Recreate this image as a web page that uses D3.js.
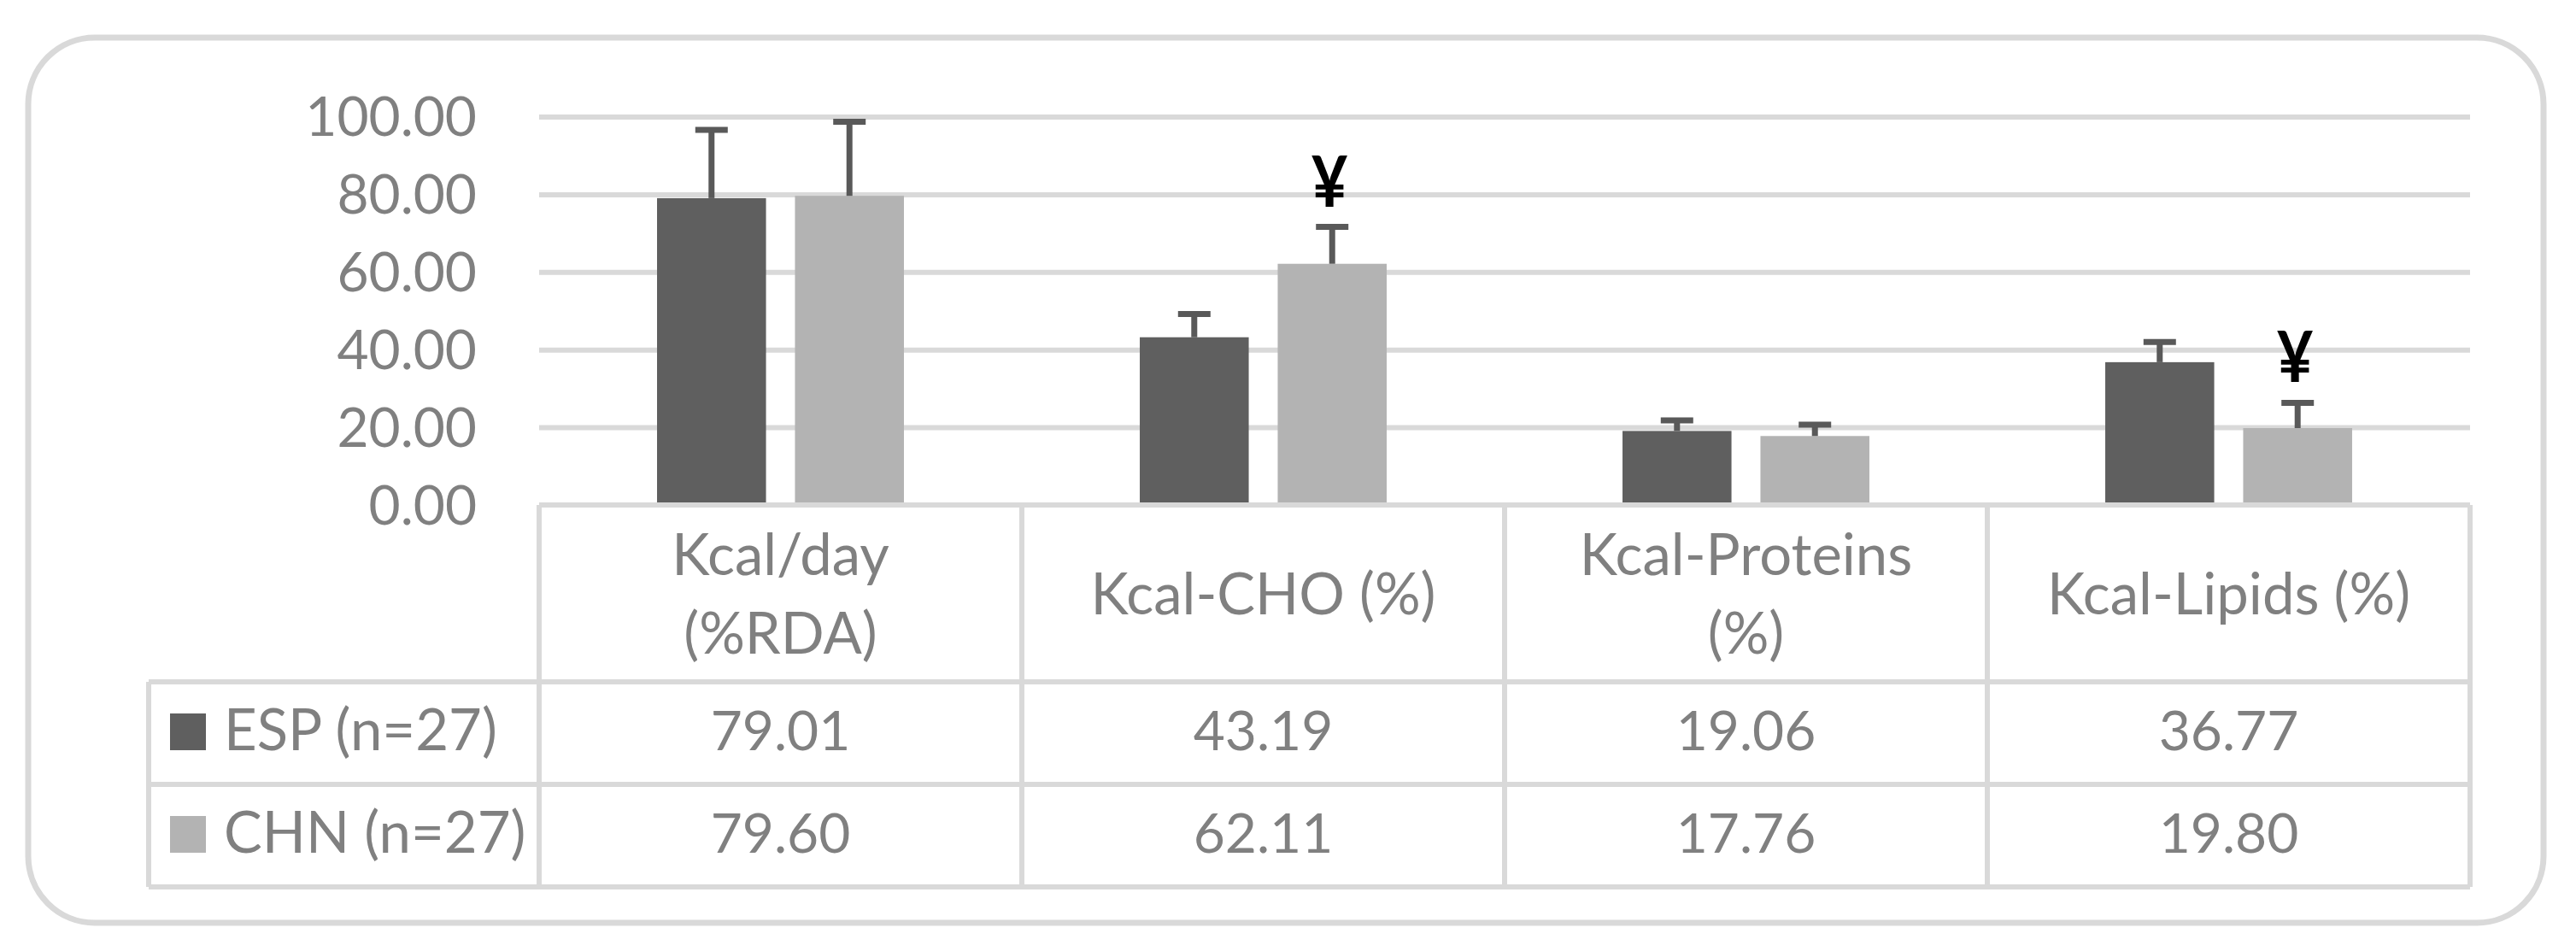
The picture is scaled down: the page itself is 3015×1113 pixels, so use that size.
<!DOCTYPE html>
<html>
<head>
<meta charset="utf-8">
<script src="https://cdn.jsdelivr.net/npm/d3@7/dist/d3.min.js"></script>
<style>
  html, body { margin: 0; padding: 0; background: #ffffff; }
  svg { display: block; }
  text { font-family: Lato, "Open Sans", sans-serif; }
</style>
</head>
<body>
<svg id="chart" width="3015" height="1113"></svg>
<script>
// ---------- data ----------
const categories = ["Kcal/day (%RDA)", "Kcal-CHO (%)", "Kcal-Proteins (%)", "Kcal-Lipids (%)"];
const categoryLines = [["Kcal/day", "(%RDA)"], ["Kcal-CHO (%)"], ["Kcal-Proteins", "(%)"], ["Kcal-Lipids (%)"]];
const seriesNames = ["ESP (n=27)", "CHN (n=27)"];
const espValues = [79.01, 43.19, 19.06, 36.77];
const chnValues = [79.60, 62.11, 17.76, 19.80];
const espSD = [17.6, 6.0, 2.7, 5.2];
const chnSD = [19.1, 9.5, 2.9, 6.5];
const chnMarks = ["", "¥", "", "¥"];
const yTicks = [0, 20, 40, 60, 80, 100];

// ---------- layout ----------
const svg = d3.select("#chart");
const colors = ["#5f5f5f", "#b3b3b3"];
const lineColor = "#d9d9d9";
const textColor = "#808080";
const plotLeft = 631, plotRight = 2891, plotTop = 136.5, plotBottom = 591;
const headerBottom = 798, rowH = 120, tableLeft = 174;

const series = [
  { name: seriesNames[0], values: espValues, sd: espSD, marks: categories.map(() => "") },
  { name: seriesNames[1], values: chnValues, sd: chnSD, marks: chnMarks }
];

// outer rounded frame
svg.append("rect")
  .attr("x", 33).attr("y", 44).attr("width", 2944).attr("height", 1036)
  .attr("rx", 78).attr("ry", 78)
  .attr("fill", "#fff").attr("stroke", lineColor).attr("stroke-width", 7);

const x = d3.scaleBand().domain(categories).range([plotLeft, plotRight]).paddingInner(0).paddingOuter(0);
const xs = d3.scaleBand().domain(seriesNames).range([0, x.bandwidth()]).paddingInner(0.21).paddingOuter(0.855);
const y = d3.scaleLinear().domain([0, 100]).range([plotBottom, plotTop]);

// gridlines
const grid = svg.append("g").attr("transform", `translate(${plotLeft},0)`)
  .call(d3.axisLeft(y).tickValues(yTicks.filter(d => d > 0)).tickSize(-(plotRight - plotLeft)).tickFormat(""));
grid.select(".domain").remove();
grid.selectAll(".tick line").attr("stroke", lineColor).attr("stroke-width", 6);

// y labels
const yAxis = svg.append("g").attr("transform", `translate(${plotLeft},0)`)
  .call(d3.axisLeft(y).tickValues(yTicks).tickSize(0).tickPadding(73).tickFormat(d3.format(".2f")));
yAxis.select(".domain").remove();
yAxis.selectAll("text").attr("fill", textColor).style("font-size", "64px")
  .style("font-family", "Lato, sans-serif").attr("dy", "0.35em");

// bars
const groups = svg.append("g").selectAll("g").data(series).join("g")
  .attr("fill", (d, i) => colors[i]);
groups.selectAll("rect").data(s => categories.map((c, j) => ({ c, v: s.values[j], sd: s.sd[j], m: s.marks[j], s: s.name })))
  .join("rect")
  .attr("x", d => x(d.c) + xs(d.s))
  .attr("width", xs.bandwidth())
  .attr("y", d => y(d.v))
  .attr("height", d => y(0) - y(d.v));

// error bars (plus direction)
const errs = svg.append("g").attr("stroke", "#595959").attr("stroke-width", 7);
series.forEach(s => {
  categories.forEach((c, j) => {
    const cx = x(c) + xs(s.name) + xs.bandwidth() / 2;
    const top = y(s.values[j] + s.sd[j]);
    errs.append("line").attr("x1", cx).attr("x2", cx).attr("y1", y(s.values[j])).attr("y2", top);
    errs.append("line").attr("x1", cx - 19).attr("x2", cx + 19).attr("y1", top).attr("y2", top);
    if (s.marks[j]) {
      svg.append("text")
        .attr("transform", `translate(${cx - 3},${top - 24}) scale(0.92,1.04)`)
        .attr("text-anchor", "middle").attr("fill", "#000")
        .style("font-size", "80px").style("font-weight", "bold")
        .style("font-family", "Lato, sans-serif")
        .text(s.marks[j]);
    }
  });
});

// data table
const tbl = svg.append("g").attr("stroke", lineColor).attr("stroke-width", 6).attr("fill", "none");
const tableBottom = headerBottom + rowH * series.length;
tbl.append("line").attr("x1", plotLeft).attr("x2", plotRight).attr("y1", plotBottom).attr("y2", plotBottom);
[0, 1, 2].forEach(k => {
  const yy = headerBottom + k * rowH;
  tbl.append("line").attr("x1", tableLeft).attr("x2", plotRight).attr("y1", yy).attr("y2", yy);
});
tbl.append("line").attr("x1", tableLeft).attr("x2", tableLeft).attr("y1", headerBottom).attr("y2", tableBottom);
categories.forEach(c => {
  tbl.append("line").attr("x1", x(c)).attr("x2", x(c)).attr("y1", plotBottom).attr("y2", tableBottom);
});
tbl.append("line").attr("x1", plotRight).attr("x2", plotRight).attr("y1", plotBottom).attr("y2", tableBottom);

// header text
const headerMid = (plotBottom + headerBottom) / 2;
const lineGap = 92;
categories.forEach((c, j) => {
  const lines = categoryLines[j];
  const t = svg.append("text").attr("text-anchor", "middle").attr("fill", textColor)
    .style("font-size", "67px");
  lines.forEach((ln, k) => {
    const baseY = headerMid + 24 + (k - (lines.length - 1) / 2) * lineGap;
    t.append("tspan").attr("x", x(c) + x.bandwidth() / 2).attr("y", baseY).text(ln);
  });
});

// rows
series.forEach((s, i) => {
  const top = headerBottom + i * rowH;
  svg.append("rect").attr("x", 199).attr("y", top + 37).attr("width", 42).attr("height", 43).attr("fill", colors[i]);
  svg.append("text").attr("x", 262).attr("y", top + 80).attr("fill", textColor)
    .style("font-size", "67px").text(s.name);
  categories.forEach((c, j) => {
    svg.append("text").attr("x", x(c) + x.bandwidth() / 2).attr("y", top + 79.5)
      .attr("text-anchor", "middle").attr("fill", textColor).style("font-size", "64px")
      .text(d3.format(".2f")(s.values[j]));
  });
});
</script>
</body>
</html>
